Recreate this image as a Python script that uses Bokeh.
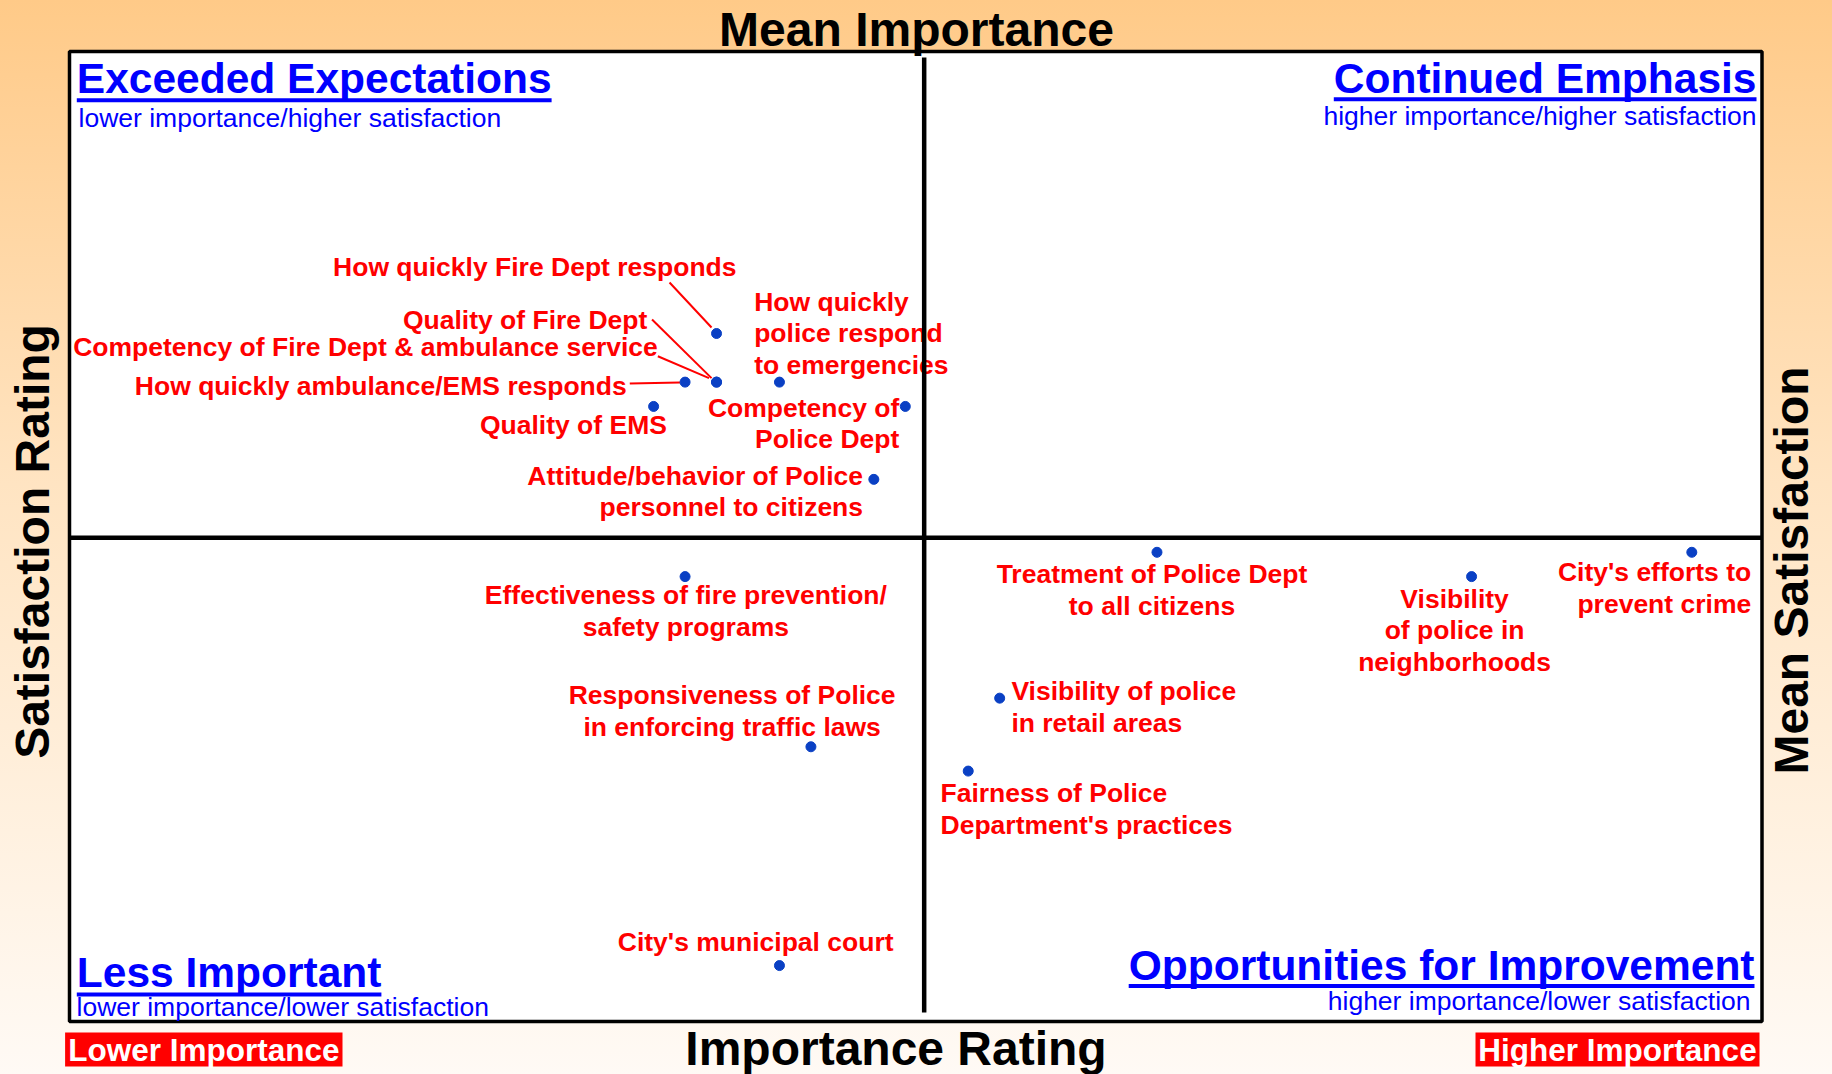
import math
from bokeh.plotting import figure
from bokeh.models import Range1d
from bokeh.embed import file_html
from bokeh.resources import INLINE
from bokeh.core.properties import value

# ---------------- data ----------------
attributes = [
    "How quickly Fire Dept responds",
    "Quality of Fire Dept",
    "Competency of Fire Dept & ambulance service",
    "How quickly ambulance/EMS responds",
    "Quality of EMS",
    "How quickly\npolice respond\nto emergencies",
    "Competency of\nPolice Dept",
    "Attitude/behavior of Police\npersonnel to citizens",
    "Effectiveness of fire prevention/\nsafety programs",
    "Responsiveness of Police\nin enforcing traffic laws",
    "City's municipal court",
    "Treatment of Police Dept\nto all citizens",
    "Visibility of police\nin retail areas",
    "Fairness of Police\nDepartment's practices",
    "Visibility\nof police in\nneighborhoods",
    "City's efforts to\nprevent crime",
]
importance = [22, 22, 22, 21, 20, 24, 28, 27, 21, 25, 24, 36, 31, 30, 46, 53]
satisfaction = [92, 90, 90, 90, 89, 90, 89, 86, 82, 75, 66, 83, 77, 74, 82, 83]
mean_importance = 28.6
mean_satisfaction = 83.6
view_x = (-0.76, 57.472)     # importance at the left / right edge of the canvas
view_y = (61.519, 105.698)   # satisfaction at the bottom / top edge of the canvas

top_title = "Mean Importance"
bottom_title = "Importance Rating"
left_title = "Satisfaction Rating"
right_title = "Mean Satisfaction"
quadrant_titles = ["Exceeded Expectations", "Continued Emphasis",
                   "Less Important", "Opportunities for Improvement"]
quadrant_subtitles = ["lower importance/higher satisfaction",
                      "higher importance/higher satisfaction",
                      "lower importance/lower satisfaction",
                      "higher importance/lower satisfaction"]
low_tag = "Lower Importance"
high_tag = "Higher Importance"

# ---------------- layout (pixels) ----------------
W, H = 1832, 1074
BL, BR, BT, BB = 69, 1761.5, 51, 1021   # plot box edges
FONT = "Liberation Sans"
VX0, VX1 = view_x
VY0, VY1 = view_y
UX = (VX1 - VX0) / W
UY = (VY1 - VY0) / H


def xd(px):
    return VX0 + px * UX


def yd(py):
    return VY1 - py * UY


# label placement relative to its dot: alignment, dx, dy of first line centre (px)
label_align = ["right", "right", "right", "right", "right", "left", "right", "right",
               "center", "center", "center", "center", "left", "left", "center", "right"]
label_dx = [20, -69.2, -58.7, -58.4, 13.3, -25.3, -6, -10.8,
            0.8, -78.8, -23.8, -5, 11.7, -27.7, -17, 59.4]
label_dy = [-66.6, -62, -35.1, 3.5, 18.7, -80.6, 1.2, -3.5,
            18.7, -51.4, -23.4, 22, -7, 22.2, 22.2, 19.8]
LINE = 31.5
# leader lines: (attribute index, start dx, dy, end dx, dy)
leaders = [(0, -47, -51, -5, -6), (1, -64.5, -62.6, -5, -4),
           (2, -58.7, -25.9, -7.5, -4), (3, -55.3, 1.4, -5, 0.5)]

p = figure(width=W, height=H, output_backend="svg", toolbar_location=None,
           x_range=Range1d(VX0, VX1), y_range=Range1d(VY0, VY1),
           x_axis_location=None, y_axis_location=None, title=None,
           min_border=0, background_fill_color=None, border_fill_color=None,
           outline_line_color=None)
p.grid.visible = False
p.styles = {"background": "linear-gradient(180deg, #FFCA88 0%, #FFE4C2 45%, #FFFAF5 100%)"}

# plot box
p.quad(left=[xd(BL)], right=[xd(BR)], top=[yd(BT)], bottom=[yd(BB)],
       fill_color="white", line_color="black", line_width=3.5)

# data labels
rows = {}
for i, name in enumerate(attributes):
    for j, line in enumerate(name.split("\n")):
        d = rows.setdefault(label_align[i], {"x": [], "y": [], "t": []})
        d["x"].append(importance[i] + label_dx[i] * UX)
        d["y"].append(satisfaction[i] - (label_dy[i] + j * LINE) * UY)
        d["t"].append(line)
for al, d in rows.items():
    p.text(x=d["x"], y=d["y"], text=d["t"], text_align=al, text_baseline="middle",
           text_font=value(FONT), text_font_style="bold", text_font_size="26.5px",
           text_color="#FF0000")

# leader lines
p.segment(x0=[importance[k] + a * UX for k, a, b, c, e in leaders],
          y0=[satisfaction[k] - b * UY for k, a, b, c, e in leaders],
          x1=[importance[k] + c * UX for k, a, b, c, e in leaders],
          y1=[satisfaction[k] - e * UY for k, a, b, c, e in leaders],
          line_color="#FF0000", line_width=2)

# mean lines
p.segment(x0=[mean_importance], y0=[yd(57)], x1=[mean_importance], y1=[yd(1012)],
          line_color="black", line_width=4.5)
p.segment(x0=[xd(BL)], y0=[mean_satisfaction], x1=[xd(BR)], y1=[mean_satisfaction],
          line_color="black", line_width=4.5)

# points
p.scatter(importance, satisfaction, size=10, color="#0A40C4")

# underlines for quadrant titles
ul = [(76.3, 551.1, 99.7), (1333.3, 1756, 98.7), (76.3, 380.9, 994), (1128.2, 1754, 985.5)]
p.segment(x0=[xd(a) for a, b, c in ul], y0=[yd(c) for a, b, c in ul],
          x1=[xd(b) for a, b, c in ul], y1=[yd(c) for a, b, c in ul],
          line_color="#0000FF", line_width=4)


def add_text(text, px, py, align, size, style="bold", color="black", angle=0.0):
    p.text(x=[xd(px)], y=[yd(py)], text=[text], angle=angle, text_align=align,
           text_baseline="middle", text_font=value(FONT), text_font_size=f"{size}px",
           text_font_style=style, text_color=color)


add_text(quadrant_titles[0], 76.3, 78.1, "left", 42.5, color="#0000FF")
add_text(quadrant_subtitles[0], 78, 117.5, "left", 26.5, style="normal", color="#0000FF")
add_text(quadrant_titles[1], 1756, 78.1, "right", 42.5, color="#0000FF")
add_text(quadrant_subtitles[1], 1756, 115, "right", 26.5, style="normal", color="#0000FF")
add_text(quadrant_titles[2], 76.3, 972, "left", 42.5, color="#0000FF")
add_text(quadrant_subtitles[2], 76, 1006.5, "left", 26.5, style="normal", color="#0000FF")
add_text(quadrant_titles[3], 1754, 965, "right", 42.5, color="#0000FF")
add_text(quadrant_subtitles[3], 1750, 1000, "right", 26.5, style="normal", color="#0000FF")

add_text(top_title, 916, 29, "center", 48)
add_text(bottom_title, 895.5, 1047.5, "center", 48)
add_text(left_title, 31.5, 541, "center", 48, angle=math.pi / 2)
add_text(right_title, 1791, 570, "center", 48, angle=math.pi / 2)

# red importance tags
tags = [(low_tag, 64.6, 342), (high_tag, 1475, 1759)]
p.quad(left=[xd(a) for t, a, b in tags], right=[xd(b) for t, a, b in tags],
       top=[yd(1032)] * 2, bottom=[yd(1066)] * 2, fill_color="#FF0000", line_color=None)
for t, a, b in tags:
    add_text(t, (a + b) / 2, 1049, "center", 31.5, color="white")

open("out.html", "w").write(file_html(p, INLINE))
